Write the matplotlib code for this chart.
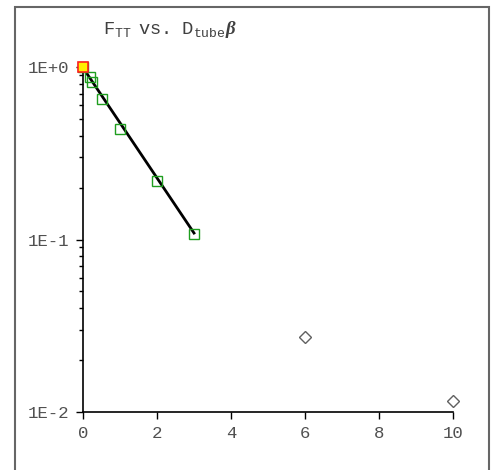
import numpy as np
import matplotlib.pyplot as plt
from matplotlib.patches import Rectangle

plt.rcParams["mathtext.fontset"] = "custom"
plt.rcParams["mathtext.rm"] = "Liberation Mono"
plt.rcParams["mathtext.it"] = "Liberation Mono"
plt.rcParams["mathtext.bf"] = "Liberation Serif:bold:italic"

# data
fit_x = [0.0, 0.2, 0.25, 0.5, 1.0, 2.0, 3.0]
fit_y = [1.0, 0.871, 0.821, 0.652, 0.44, 0.217, 0.108]
line_x = [0.0, 3.0]
line_y = [0.99, 0.109]
extra_x = [6.0, 10.0]
extra_y = [0.0273, 0.0116]
origin_x = [0.0]
origin_y = [1.0]
x_ticks = [0, 2, 4, 6, 8, 10]
y_ticks = [0.01, 0.1, 1.0]
y_labels = ["1E-2", "1E-1", "1E+0"]

fig = plt.figure(figsize=(4.97, 4.70), dpi=100)
ax = fig.add_axes([83 / 497, 1 - 412 / 470, 370 / 497, 345 / 470])

# outer frame
fig.patches.append(Rectangle((15 / 497, -0.05), 474 / 497, 1.05 - 7 / 470,
                             transform=fig.transFigure, fill=False,
                             edgecolor="#666666", linewidth=1.5))

ax.plot(line_x, line_y, color="black", lw=2, zorder=2)
ax.plot(fit_x, fit_y, ls="none", marker="s", ms=6.5, mfc="none",
        mec="#1f9e1f", mew=1.0, zorder=3, clip_on=False)
ax.plot(extra_x, extra_y, ls="none", marker="D", ms=6, mfc="none",
        mec="#606060", mew=1.0, zorder=3, clip_on=False)
ax.plot(origin_x, origin_y, ls="none", marker="s", ms=6.5, mfc="#ffee00",
        mec="#ff2020", mew=1.2, zorder=4, clip_on=False)

ax.set_yscale("log")
ax.set_xlim(0, 10)
ax.set_ylim(0.01, 1.0)
ax.set_xticks(x_ticks)
ax.set_xticklabels([str(t) for t in x_ticks])
ax.set_yticks(y_ticks)
ax.set_yticklabels(y_labels)

for s in ["top", "right"]:
    ax.spines[s].set_visible(False)
for s in ["left", "bottom"]:
    ax.spines[s].set_linewidth(1.2)

ax.tick_params(axis="both", which="major", direction="out", length=5,
               width=1, labelsize=12.5, labelcolor="#505050", pad=5)
ax.tick_params(axis="y", which="minor", direction="out", length=3, width=1)
for lab in ax.get_xticklabels() + ax.get_yticklabels():
    lab.set_family("Liberation Mono")

fig.text(170 / 497, 1 - 30 / 470,
         r"$\mathrm{F_{TT}\ \ vs.\ \ D_{tube}}\mathbf{\beta}$",
         ha="center", va="center", fontsize=13.5, color="#404040")

fig.savefig("out.png", dpi=100)
